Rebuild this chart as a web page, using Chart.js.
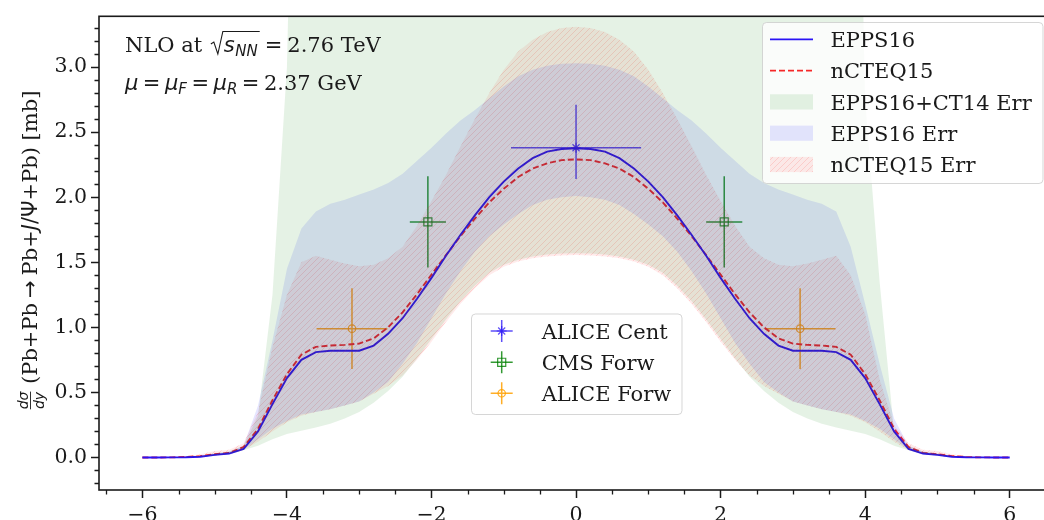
<!DOCTYPE html>
<html>
<head>
<meta charset="utf-8">
<script src="https://cdn.jsdelivr.net/npm/chart.js@4.4.4/dist/chart.umd.min.js"></script>
<style>
  html, body { margin: 0; padding: 0; background: #fff; overflow: hidden; }
  #wrap { width: 1060px; height: 520px; }
</style>
</head>
<body>
<div id="wrap"><canvas id="chart" width="1060" height="520"></canvas></div>
<script>
// rapidity grid
const xs = [-6.0,-5.8,-5.6,-5.4,-5.2,-5.0,-4.8,-4.6,-4.4,-4.2,-4.0,-3.8,-3.6,-3.4,-3.2,-3.0,-2.8,-2.6,-2.4,-2.2,-2.0,-1.8,-1.6,-1.4,-1.2,-1.0,-0.8,-0.6,-0.4,-0.2,
  0.0,0.2,0.4,0.6,0.8,1.0,1.2,1.4,1.6,1.8,2.0,2.2,2.4,2.6,2.8,3.0,3.2,3.4,3.6,3.8,4.0,4.2,4.4,4.6,4.8,5.0,5.2,5.4,5.6,5.8,6.0];

const eppsCentral = [0.000,0.000,0.001,0.002,0.006,0.020,0.030,0.065,0.200,0.410,0.610,0.750,0.810,0.820,0.820,0.820,0.860,0.950,1.070,1.220,1.380,1.550,1.710,1.860,2.000,2.120,2.220,2.300,2.350,2.370,
  2.375,2.370,2.350,2.300,2.220,2.120,2.000,1.860,1.710,1.550,1.380,1.220,1.070,0.950,0.860,0.820,0.820,0.820,0.810,0.750,0.610,0.410,0.200,0.065,0.030,0.020,0.006,0.002,0.001,0.000,0.000];
const ncteqCentral = [0.000,0.000,0.001,0.004,0.010,0.025,0.035,0.080,0.220,0.440,0.640,0.790,0.850,0.860,0.865,0.875,0.915,1.000,1.115,1.255,1.405,1.555,1.700,1.835,1.960,2.065,2.155,2.220,2.260,2.285,
  2.290,2.285,2.260,2.220,2.155,2.065,1.960,1.835,1.700,1.555,1.405,1.255,1.115,1.000,0.915,0.875,0.865,0.860,0.850,0.790,0.640,0.440,0.220,0.080,0.035,0.025,0.010,0.004,0.001,0.000,0.000];

// EPPS16+CT14 error band
const ct14Low = [0.000,0.000,0.000,0.001,0.004,0.015,0.025,0.055,0.090,0.140,0.180,0.205,0.230,0.260,0.300,0.350,0.420,0.510,0.620,0.760,0.910,1.060,1.200,1.320,1.420,1.480,1.520,1.545,1.560,1.568,
  1.570,1.568,1.560,1.545,1.520,1.480,1.420,1.320,1.200,1.060,0.910,0.760,0.620,0.510,0.420,0.350,0.300,0.260,0.230,0.205,0.180,0.140,0.090,0.055,0.025,0.015,0.004,0.001,0.000,0.000,0.000];
const ct14High = [0.000,0.000,0.002,0.005,0.012,0.030,0.045,0.090,0.320,1.250,3.000,8,8,8,8,8,8,8,8,8,8,8,8,8,8,8,8,8,8,8,
  8,8,8,8,8,8,8,8,8,8,8,8,8,8,8,8,8,8,8,8,2.750,1.350,0.200,0.090,0.045,0.030,0.012,0.005,0.002,0.000,0.000];

// EPPS16 error band
const eppsLow = [0.000,0.000,0.000,0.001,0.004,0.016,0.026,0.060,0.140,0.220,0.280,0.330,0.350,0.370,0.400,0.430,0.500,0.580,0.720,0.880,1.070,1.260,1.430,1.580,1.700,1.790,1.870,1.940,1.980,2.000,
  2.010,2.000,1.980,1.940,1.870,1.790,1.700,1.580,1.430,1.260,1.070,0.880,0.720,0.580,0.500,0.430,0.400,0.370,0.350,0.330,0.280,0.220,0.140,0.060,0.026,0.016,0.004,0.001,0.000,0.000,0.000];
const eppsHigh = [0.000,0.000,0.002,0.005,0.012,0.030,0.045,0.090,0.400,0.900,1.450,1.760,1.890,1.950,1.980,2.020,2.060,2.110,2.180,2.280,2.380,2.490,2.590,2.670,2.760,2.850,2.930,2.980,3.010,3.025,
  3.030,3.025,3.010,2.980,2.930,2.850,2.760,2.670,2.590,2.490,2.380,2.280,2.180,2.110,2.060,2.020,1.980,1.950,1.890,1.620,1.180,0.720,0.300,0.090,0.045,0.030,0.012,0.005,0.002,0.000,0.000];

// nCTEQ15 error band
const ncteqLow = [0.000,0.000,0.000,0.001,0.004,0.016,0.026,0.058,0.120,0.200,0.270,0.320,0.350,0.370,0.400,0.430,0.490,0.550,0.630,0.750,0.890,1.040,1.180,1.300,1.400,1.465,1.505,1.530,1.545,1.552,
  1.555,1.552,1.545,1.530,1.505,1.465,1.400,1.300,1.180,1.040,0.890,0.750,0.630,0.550,0.490,0.430,0.400,0.370,0.350,0.320,0.270,0.200,0.120,0.058,0.026,0.016,0.004,0.001,0.000,0.000,0.000];
const ncteqHigh = [0.000,0.000,0.003,0.010,0.025,0.050,0.060,0.110,0.350,0.850,1.250,1.500,1.550,1.520,1.490,1.470,1.480,1.530,1.620,1.780,1.970,2.170,2.390,2.600,2.800,2.980,3.120,3.210,3.270,3.300,
  3.310,3.300,3.270,3.210,3.120,2.980,2.800,2.600,2.390,2.170,1.970,1.780,1.620,1.530,1.480,1.470,1.490,1.520,1.550,1.400,1.100,0.600,0.250,0.110,0.060,0.050,0.025,0.010,0.003,0.000,0.000];

// measurements
const aliceCentX = [0.0];
const aliceCentY = [2.38];
const aliceCentXErr = [0.9];
const aliceCentYErrLow = [0.24];
const aliceCentYErrHigh = [0.33];

const cmsForwX = [-2.05, 2.05];
const cmsForwY = [1.81, 1.81];
const cmsForwXErr = [0.25, 0.25];
const cmsForwYErrLow = [0.35, 0.35];
const cmsForwYErrHigh = [0.35, 0.35];

const aliceForwX = [-3.1, 3.1];
const aliceForwY = [0.99, 0.99];
const aliceForwXErr = [0.49, 0.49];
const aliceForwYErrLow = [0.31, 0.31];
const aliceForwYErrHigh = [0.31, 0.31];

const xTicks = [-6, -4, -2, 0, 2, 4, 6];
const yTicks = [0.0, 0.5, 1.0, 1.5, 2.0, 2.5, 3.0];

const INK = '#1a1a1a';
const SERIF = '"DejaVu Serif", serif';
const SANS = '"DejaVu Sans", sans-serif';
const BLUE = '#2a14f5';
const RED = '#f52828';
const GREEN_FILL = 'rgba(0,128,0,0.10)';
const BLUE_FILL = 'rgba(0,0,255,0.10)';
const ALICE_CENT_C = 'rgba(40,20,245,0.75)';
const CMS_C = 'rgba(0,128,0,0.8)';
const ALICE_FORW_C = 'rgba(255,160,0,0.85)';

const pts = ys => xs.map((x, i) => ({ x, y: ys[i] }));

function hatchPattern() {
  const s = 6;
  const c = document.createElement('canvas');
  c.width = s; c.height = s;
  const g = c.getContext('2d');
  g.fillStyle = 'rgba(255,0,0,0.08)';
  g.fillRect(0, 0, s, s);
  g.strokeStyle = 'rgba(255,50,50,0.18)';
  g.lineWidth = 0.9;
  g.beginPath();
  g.moveTo(0, s); g.lineTo(s, 0);
  g.moveTo(-1, 1); g.lineTo(1, -1);
  g.moveTo(s - 1, s + 1); g.lineTo(s + 1, s - 1);
  g.stroke();
  return g.createPattern(c, 'repeat');
}
const HATCH = hatchPattern();

function band(ys, fill, color) {
  return {
    data: pts(ys), fill: fill, backgroundColor: color,
    borderColor: 'rgba(0,0,0,0)', borderWidth: 0, pointRadius: 0, tension: 0,
  };
}

function markers(xv, yv, style, radius, color, err) {
  return {
    type: 'scatter',
    data: xv.map((x, i) => ({ x, y: yv[i] })),
    pointStyle: style, pointRadius: radius, pointBorderWidth: 1.2,
    pointBackgroundColor: 'rgba(0,0,0,0)', pointBorderColor: color,
    showLine: false, err: err, errColor: color,
  };
}

function drawMarker(ctx, style, x, y, r) {
  ctx.beginPath();
  if (style === 'star') {
    const d = r * Math.SQRT1_2;
    ctx.moveTo(x - r, y); ctx.lineTo(x + r, y);
    ctx.moveTo(x, y - r); ctx.lineTo(x, y + r);
    ctx.moveTo(x - d, y - d); ctx.lineTo(x + d, y + d);
    ctx.moveTo(x - d, y + d); ctx.lineTo(x + d, y - d);
  } else if (style === 'rect') {
    const d = r * Math.SQRT1_2;
    ctx.rect(x - d, y - d, 2 * d, 2 * d);
  } else {
    ctx.arc(x, y, r, 0, Math.PI * 2);
  }
  ctx.stroke();
}

const errorBars = {
  id: 'errorBars',
  beforeDatasetDraw(chart, args) {
    const ds = chart.data.datasets[args.index];
    if (!ds.err) return;
    const { ctx, scales: { x, y } } = chart;
    const e = ds.err;
    ctx.save();
    ctx.strokeStyle = ds.errColor;
    ctx.lineWidth = 1.5;
    e.x.forEach((xv, i) => {
      const yv = e.y[i];
      ctx.beginPath();
      ctx.moveTo(x.getPixelForValue(xv - e.xErr[i]), y.getPixelForValue(yv));
      ctx.lineTo(x.getPixelForValue(xv + e.xErr[i]), y.getPixelForValue(yv));
      ctx.moveTo(x.getPixelForValue(xv), y.getPixelForValue(yv - e.yLow[i]));
      ctx.lineTo(x.getPixelForValue(xv), y.getPixelForValue(yv + e.yHigh[i]));
      ctx.stroke();
    });
    ctx.restore();
  },
};

function drawRun(ctx, x, y, parts) {
  parts.forEach(p => {
    x += p.gap || 0;
    ctx.font = p.font;
    ctx.fillText(p.t, x, y + (p.dy || 0));
    x += ctx.measureText(p.t).width;
  });
  return x;
}

function drawAnnotation(ctx) {
  const serif = '21px ' + SERIF, sans = '21px ' + SANS;
  const isans = 'italic 21px ' + SANS, isub = 'italic 15px ' + SANS;
  ctx.save();
  ctx.fillStyle = INK; ctx.strokeStyle = INK;
  ctx.textAlign = 'left'; ctx.textBaseline = 'alphabetic';
  // line 1
  let b = 52;
  let x = drawRun(ctx, 125, b, [{ t: 'NLO at ', font: serif }]);
  const r0 = x + 2;
  x = drawRun(ctx, r0 + 13, b, [{ t: 's', font: isans }, { t: 'NN', font: isub, dy: 3.5, gap: 0.5 }]);
  ctx.lineWidth = 1.1;
  ctx.beginPath();
  ctx.moveTo(r0, b - 8); ctx.lineTo(r0 + 3, b - 10); ctx.lineTo(r0 + 7, b + 2);
  ctx.lineTo(r0 + 12, b - 20.5); ctx.lineTo(x + 2, b - 20.5);
  ctx.stroke();
  drawRun(ctx, x + 7, b, [{ t: '=', font: sans }, { t: '2.76 TeV', font: serif, gap: 5 }]);
  // line 2
  b = 90;
  drawRun(ctx, 125, b, [
    { t: '\u03bc', font: isans },
    { t: '=', font: sans, gap: 4.5 },
    { t: '\u03bc', font: isans, gap: 4.5 }, { t: 'F', font: isub, dy: 3.5 },
    { t: '=', font: sans, gap: 4.5 },
    { t: '\u03bc', font: isans, gap: 4.5 }, { t: 'R', font: isub, dy: 3.5 },
    { t: '=', font: sans, gap: 4.5 },
    { t: '2.37 GeV', font: serif, gap: 4.5 },
  ]);
  ctx.restore();
}

function drawYLabel(ctx) {
  const serif = '21px ' + SERIF, sans = '21px ' + SANS, isans = 'italic 21px ' + SANS;
  const frac = 'italic 14px ' + SANS;
  ctx.save();
  ctx.translate(37, 250.5);
  ctx.rotate(-Math.PI / 2);
  ctx.fillStyle = INK; ctx.strokeStyle = INK;
  ctx.textBaseline = 'alphabetic';
  ctx.font = frac;
  const wf = Math.max(ctx.measureText('d\u03c3').width, ctx.measureText('dy').width) + 2;
  const parts = [
    { t: ' (Pb+Pb', font: serif }, { t: '\u2192', font: sans, gap: 5 }, { t: 'Pb+', font: serif, gap: 5 },
    { t: 'J', font: isans }, { t: '/', font: sans }, { t: '\u03a8', font: sans },
    { t: '+Pb) [mb]', font: serif },
  ];
  let total = wf;
  parts.forEach(p => { ctx.font = p.font; total += ctx.measureText(p.t).width + (p.gap || 0); });
  let x = -total / 2;
  ctx.font = frac; ctx.textAlign = 'center';
  ctx.fillText('d\u03c3', x + wf / 2, -9.5);
  ctx.fillText('dy', x + wf / 2, 6.5);
  ctx.lineWidth = 0.9;
  ctx.beginPath(); ctx.moveTo(x + 1, -6.5); ctx.lineTo(x + wf - 1, -6.5); ctx.stroke();
  ctx.textAlign = 'left';
  drawRun(ctx, x + wf, 0, parts);
  ctx.restore();
}

function legendBox(ctx, x, y, w, h) {
  ctx.save();
  ctx.beginPath();
  ctx.roundRect(x, y, w, h, 4);
  ctx.fillStyle = 'rgba(255,255,255,0.8)';
  ctx.fill();
  ctx.strokeStyle = 'rgba(204,204,204,0.8)';
  ctx.lineWidth = 1;
  ctx.stroke();
  ctx.restore();
}

function drawLegends(ctx) {
  const font = '21px ' + SERIF;
  // model legend
  legendBox(ctx, 762.5, 22.5, 280.5, 161);
  const rows = [39.3, 70.6, 101.9, 133.2, 164.5];
  ctx.save();
  ctx.font = font; ctx.fillStyle = INK; ctx.textBaseline = 'alphabetic'; ctx.textAlign = 'left';
  ctx.lineWidth = 1.8;
  ctx.strokeStyle = BLUE;
  ctx.beginPath(); ctx.moveTo(770, rows[0]); ctx.lineTo(813, rows[0]); ctx.stroke();
  ctx.strokeStyle = RED; ctx.setLineDash([6, 3]);
  ctx.beginPath(); ctx.moveTo(770, rows[1]); ctx.lineTo(813, rows[1]); ctx.stroke();
  ctx.setLineDash([]);
  [GREEN_FILL, BLUE_FILL, HATCH].forEach((f, i) => {
    ctx.fillStyle = f;
    ctx.fillRect(770, rows[i + 2] - 7.6, 43, 15.2);
  });
  ctx.fillStyle = INK;
  ['EPPS16', 'nCTEQ15', 'EPPS16+CT14 Err', 'EPPS16 Err', 'nCTEQ15 Err'].forEach((t, i) => {
    ctx.fillText(t, 830.5, rows[i] + 7.6);
  });
  ctx.restore();

  // data legend
  legendBox(ctx, 471.5, 314, 210.5, 100.5);
  const drows = [331, 362.3, 393.3];
  const items = [
    ['ALICE Cent', ALICE_CENT_C, 'star', 5],
    ['CMS Forw', CMS_C, 'rect', 5.7],
    ['ALICE Forw', ALICE_FORW_C, 'circle', 3.7],
  ];
  ctx.save();
  items.forEach((it, i) => {
    const cy = drows[i], cx = 501.7;
    ctx.strokeStyle = it[1]; ctx.lineWidth = 1.5;
    ctx.beginPath();
    ctx.moveTo(cx - 11, cy); ctx.lineTo(cx + 11, cy);
    ctx.moveTo(cx, cy - 11); ctx.lineTo(cx, cy + 11);
    ctx.stroke();
    ctx.lineWidth = 1.2;
    drawMarker(ctx, it[2], cx, cy, it[3]);
    ctx.font = font; ctx.fillStyle = INK; ctx.textBaseline = 'alphabetic';
    ctx.fillText(it[0], 541.7, cy + 7.6);
  });
  ctx.restore();
}

const decorations = {
  id: 'decorations',
  afterDraw(chart) {
    const { ctx, chartArea: a, scales: { x, y } } = chart;
    ctx.save();
    ctx.strokeStyle = INK;
    ctx.lineWidth = 1.3;
    ctx.beginPath();
    for (let v = -6.5; v <= 6.51; v += 0.5) {
      if (Math.abs(v / 2 - Math.round(v / 2)) < 1e-6) continue;
      const px = Math.round(x.getPixelForValue(v)) + 0.5;
      ctx.moveTo(px, a.bottom); ctx.lineTo(px, a.bottom + 4.5);
    }
    for (let k = -2; k <= 33; k++) {
      if (k % 5 === 0) continue;
      const py = Math.round(y.getPixelForValue(k / 10)) + 0.5;
      ctx.moveTo(a.left, py); ctx.lineTo(a.left - 4.5, py);
    }
    ctx.stroke();
    ctx.lineWidth = 1.6;
    ctx.strokeRect(a.left, a.top, a.right - a.left, a.bottom - a.top);
    ctx.restore();
    drawYLabel(ctx);
    drawAnnotation(ctx);
    drawLegends(ctx);
  },
};

const tickFont = { family: SERIF, size: 20.5 };

new Chart(document.getElementById('chart'), {
  type: 'line',
  data: {
    datasets: [
      band(ct14Low, false, 'rgba(0,0,0,0)'),
      band(ct14High, '-1', GREEN_FILL),
      band(eppsLow, false, 'rgba(0,0,0,0)'),
      band(eppsHigh, '-1', BLUE_FILL),
      band(ncteqLow, false, 'rgba(0,0,0,0)'),
      band(ncteqHigh, '-1', HATCH),
      { data: pts(eppsCentral), borderColor: BLUE, borderWidth: 1.9, pointRadius: 0, fill: false, tension: 0 },
      { data: pts(ncteqCentral), borderColor: RED, borderWidth: 1.9, borderDash: [6, 3], pointRadius: 0, fill: false, tension: 0 },
      markers(aliceCentX, aliceCentY, 'star', 5, ALICE_CENT_C,
        { x: aliceCentX, y: aliceCentY, xErr: aliceCentXErr, yLow: aliceCentYErrLow, yHigh: aliceCentYErrHigh }),
      markers(cmsForwX, cmsForwY, 'rect', 5.7, CMS_C,
        { x: cmsForwX, y: cmsForwY, xErr: cmsForwXErr, yLow: cmsForwYErrLow, yHigh: cmsForwYErrHigh }),
      markers(aliceForwX, aliceForwY, 'circle', 3.7, ALICE_FORW_C,
        { x: aliceForwX, y: aliceForwY, xErr: aliceForwXErr, yLow: aliceForwYErrLow, yHigh: aliceForwYErrHigh }),
    ],
  },
  options: {
    responsive: false,
    animation: false,
    events: [],
    layout: { padding: { top: 11, right: 4, left: 0, bottom: 0 } },
    plugins: { legend: { display: false }, tooltip: { enabled: false } },
    scales: {
      x: {
        type: 'linear', min: -6.6, max: 6.6,
        afterBuildTicks: s => { s.ticks = xTicks.map(v => ({ value: v })); },
        afterFit: s => { s.height = 30; },
        ticks: {
          color: INK, font: tickFont, padding: 5, maxRotation: 0, autoSkip: false,
          callback: v => (v < 0 ? '\u2212' + Math.abs(v) : String(v)),
        },
        grid: { drawOnChartArea: false, drawTicks: true, tickLength: 8, tickWidth: 1.5, tickColor: INK },
        border: { display: false },
      },
      y: {
        type: 'linear', min: -0.25, max: 3.39,
        afterBuildTicks: s => { s.ticks = yTicks.map(v => ({ value: v })); },
        afterFit: s => { s.width = 99; },
        ticks: { color: INK, font: tickFont, padding: 4, callback: v => v.toFixed(1) },
        grid: { drawOnChartArea: false, drawTicks: true, tickLength: 8, tickWidth: 1.5, tickColor: INK },
        border: { display: false },
      },
    },
  },
  plugins: [errorBars, decorations],
});
</script>
</body>
</html>
